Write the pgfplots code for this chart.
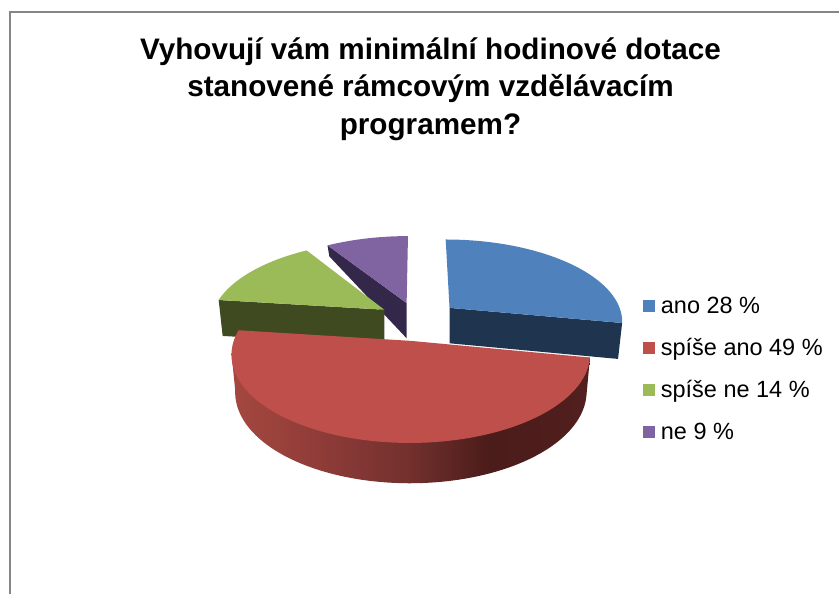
\documentclass[border=0pt]{standalone}
\usepackage{pgfplots}
\usepackage{pgfplotstable}
\usepackage{fontspec}
\setmainfont{Liberation Sans}
\pgfplotsset{compat=1.18}

% survey answers, in per cent
\pgfplotstableread{
answer value
ano 28
spise_ano 49
spise_ne 14
ne 9
}\shares

\definecolor{sliceblue}{HTML}{4F81BD}
\definecolor{slicered}{HTML}{BE4F4B}
\definecolor{slicegreen}{HTML}{9BBB59}
\definecolor{slicepurple}{HTML}{8064A2}
\definecolor{sideblue}{HTML}{1F344E}
\definecolor{sidegreen}{HTML}{404A21}
\definecolor{sidepurple}{HTML}{33274A}
\definecolor{framegray}{HTML}{868686}
\definecolor{rimA}{HTML}{A5483F}
\definecolor{rimB}{HTML}{8E3B38}
\definecolor{rimC}{HTML}{72302D}
\definecolor{rimD}{HTML}{4A1C1A}
\definecolor{rimE}{HTML}{521F1D}

% rim of the large slice, light on the left and dark towards the right
\pgfdeclarehorizontalshading{rimshade}{100bp}{
  color(0bp)=(rimA);
  color(25bp)=(rimA);
  color(38bp)=(rimB);
  color(50bp)=(rimC);
  color(61bp)=(rimD);
  color(75bp)=(rimE);
  color(100bp)=(rimE)}

% top face of a slice: colour, start, end, radius, x nudge, y nudge
\newcommand\slicetop[6]{%
  \pgfmathsetmacro\ex{0.23*sin((#2+#3)/2)}%
  \pgfmathsetmacro\ey{0.23*cos((#2+#3)/2)}%
  \pgfmathsetmacro\cx{px(\ex,\ey)+#5}%
  \pgfmathsetmacro\cy{py(\ex,\ey)+#6}%
  \edef\next{\noexpand\addplot[fill=#1,draw=none,domain=#2:#3,samples=70,forget plot]
    ({px(#4*sin(x)+\ex,#4*cos(x)+\ey)+#5},{py(#4*sin(x)+\ex,#4*cos(x)+\ey)+#6})
    -- (axis cs:\cx,\cy) -- cycle;}\next}

% flat cut face of a slice: colour, cut angle, start, end, radius, nudges, depth at the outer end
\newcommand\sliceside[8]{%
  \pgfmathsetmacro\ex{0.23*sin((#3+#4)/2)}%
  \pgfmathsetmacro\ey{0.23*cos((#3+#4)/2)}%
  \pgfmathsetmacro\cx{px(\ex,\ey)+#6}%
  \pgfmathsetmacro\cy{py(\ex,\ey)+#7}%
  \pgfmathsetmacro\ou{#5*sin(#2)+\ex}%
  \pgfmathsetmacro\ov{#5*cos(#2)+\ey}%
  \pgfmathsetmacro\ox{px(\ou,\ov)+#6}%
  \pgfmathsetmacro\oy{py(\ou,\ov)+#7}%
  \pgfmathsetmacro\bx{418+0.98*(\ox-418)}%
  \pgfmathsetmacro\by{\oy+#8}%
  \pgfmathsetmacro\dy{\cy+ph(\ey)}%
  \edef\next{\noexpand\addplot[fill=#1,draw=none,forget plot] coordinates
    {(\cx,\cy) (\ox,\oy) (\bx,\by) (\cx,\dy)} -- cycle;}\next}

\begin{document}
\begin{tikzpicture}
\tikzset{declare function={
  px(\u,\v)=417.9+174*\u/(1+0.15*\v);
  py(\u,\v)=320-82*\v/(1+0.15*\v);
  ph(\v)=36*(1-0.1*\v);
}}
% slice boundaries, clockwise from twelve o'clock
\pgfplotstablegetelem{0}{value}\of\shares\pgfmathsetmacro\ta{3.6*\pgfplotsretval}
\pgfplotstablegetelem{1}{value}\of\shares\pgfmathsetmacro\tb{\ta+3.6*\pgfplotsretval}
\pgfplotstablegetelem{2}{value}\of\shares\pgfmathsetmacro\tc{\tb+3.6*\pgfplotsretval}
\pgfplotstablegetelem{3}{value}\of\shares\pgfmathsetmacro\td{\tc+3.6*\pgfplotsretval}
\begin{axis}[
  scale only axis, width=840pt, height=595pt,
  xmin=0, xmax=840, ymin=0, ymax=595, y dir=reverse,
  axis lines=none, clip=false,
  legend image code/.code={\fill[#1] (0pt,-6pt) rectangle (12pt,6pt);},
  legend style={at={(axis cs:644,296)},anchor=north west,draw=none,fill=none,
    font=\fontsize{23.5}{27}\selectfont,row sep=20.3pt,
    /tikz/every odd column/.append style={column sep=4pt},
    inner sep=0pt, nodes={inner sep=1.5pt}},
  legend cell align=left,
]
\addlegendimage{draw=none,fill=sliceblue}\addlegendentry{ano 28 \%}
\addlegendimage{draw=none,fill=slicered}\addlegendentry{spíše ano 49 \%}
\addlegendimage{draw=none,fill=slicegreen}\addlegendentry{spíše ne 14 \%}
\addlegendimage{draw=none,fill=slicepurple}\addlegendentry{ne 9 \%}

% page extent
\path (axis cs:0,0) (axis cs:840,595);

% chart frame
\addplot[framegray,line width=2pt,forget plot] coordinates {(10,595) (10,12.5) (840,12.5)};

% slices, back to front
\sliceside{sidepurple}{\tc}{\tc}{\td}{1}{0}{1}{11}
\slicetop{slicepurple}{\tc}{\td}{1}{0}{1}
\sliceside{sidegreen}{\tb}{\tb}{\tc}{1}{0}{0}{36}
\slicetop{slicegreen}{\tb}{\tc}{1}{0}{0}
\sliceside{sideblue}{\ta}{0}{\ta}{1}{2}{0}{36}
\slicetop{sliceblue}{0}{\ta}{1}{2}{0}

% rim of the large slice: lower edge, then back up to the top face
\pgfmathsetmacro\ex{0.23*sin((\ta+\tb)/2)}
\pgfmathsetmacro\ey{0.23*cos((\ta+\tb)/2)}
\pgfmathsetmacro\lu{0.985*sin(262)+\ex}\pgfmathsetmacro\lv{0.985*cos(262)+\ey}
\pgfmathsetmacro\lx{px(\lu,\lv)}\pgfmathsetmacro\ly{py(\lu,\lv)+2}
\pgfmathsetmacro\ru{0.985*sin(\ta)+\ex}\pgfmathsetmacro\rv{0.985*cos(\ta)+\ey}
\pgfmathsetmacro\rx{px(\ru,\rv)}\pgfmathsetmacro\ry{py(\ru,\rv)+2}
\edef\next{\noexpand\addplot[shade,shading=rimshade,draw=none,domain=\ta:262,samples=70,forget plot]
  ({418+0.98*(px(0.985*sin(x)+\ex,0.985*cos(x)+\ey)-418)},
   {py(0.985*sin(x)+\ex,0.985*cos(x)+\ey)+2+ph(0.985*cos(x)+\ey)})
  -- (axis cs:\lx,\ly) -- (axis cs:\rx,\ry) -- cycle;}\next
\slicetop{slicered}{\ta}{\tb}{0.985}{0}{2}

% chart title
\node[anchor=north,align=center,font=\fontsize{29.7}{37.5}\selectfont\bfseries]
  at (axis cs:431,34) {Vyhovují vám minimální hodinové dotace\\stanovené rámcovým vzdělávacím\\programem?};
\end{axis}
\end{tikzpicture}
\end{document}
